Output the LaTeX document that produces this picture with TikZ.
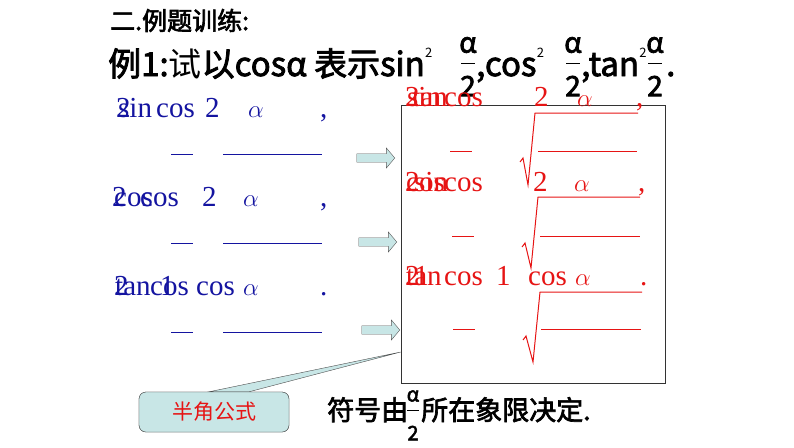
\documentclass[tikz,border=0pt]{standalone}
\usepackage{fontspec}
\setmainfont{Liberation Serif}
\newfontfamily\cjk{Noto Sans CJK SC}[FakeBold=2.5]
\newfontfamily\cjkr{Noto Sans CJK SC}
\usetikzlibrary{shapes.arrows}
\definecolor{bl}{RGB}{20,20,160}
\definecolor{rd}{RGB}{230,20,20}
\definecolor{cy}{RGB}{200,230,230}
\begin{document}
\begin{tikzpicture}[x=1pt,y=-1pt,
  bt/.style={inner sep=0,anchor=base west,text=bl,font=\fontsize{29}{29}\selectfont},
  rt/.style={inner sep=0,anchor=base west,text=rd,font=\fontsize{29}{29}\selectfont},
  bbar/.style={draw=bl,line width=1pt},
  rbar/.style={draw=rd,line width=1pt},
  blk/.style={single arrow,draw=gray!70!black,fill=cy,minimum height=38pt,minimum width=20pt,single arrow head extend=3pt,inner sep=2pt,single arrow tip angle=100},
  tt/.style={inner sep=0,anchor=base west,font=\cjk\fontsize{33}{33}\selectfont},
  sup/.style={inner sep=0,anchor=base west,font=\cjkr\fontsize{13}{13}\selectfont},
  fr/.style={inner sep=0,font=\cjk\fontsize{28}{28}\selectfont}]
\useasboundingbox (0,0) rectangle (794,447);
% headings
\node[inner sep=0,anchor=base west,font=\cjk\fontsize{25}{25}\selectfont] (h1) at (110,30) {二.例题训练:};
\node[tt] (h2) at (108,76) {例1:\cjkr 试\cjk 以cosα 表示sin};
\node[sup] (s1) at (h2.base east) [yshift=19pt] {2};
\node[fr] (fa1) at (468,45) {α};
\draw[line width=1pt] (461,63) -- (475,63);
\node[fr] (fb1) at (468,86) {2};
\node[tt] (h3) at (476,76) {,cos};
\node[sup] (s2) at (h3.base east) [yshift=19pt] {2};
\node[fr] (fa2) at (573,45) {α};
\draw[line width=1pt] (566,63) -- (580,63);
\node[fr] (fb2) at (573,86) {2};
\node[tt] (h4) at (581,76) {,tan};
\node[sup] (s3) at (h4.base east) [yshift=19pt] {2};
\node[fr] (fa3) at (655,45) {α};
\draw[line width=1pt] (648,63) -- (662,63);
\node[fr] (fb3) at (655,86) {2};
\node[tt] (h5) at (666,76) {.};
% blue formulas
\node[bt] (b1a) at (116,117) {2};
\node[bt] (b1b) at (118,117) {sin};
\node[bt] (b1c) at (156,117) {cos};
\node[bt] (b1d) at (205,117) {2};
\node[bt] (b1e) at (248,117) {$\alpha$};
\node[bt] (b1f) at (320,117) {,};
\draw[bbar] (171,154) -- (193,154); \draw[bbar] (223,154) -- (322,154);
\node[bt] (b2a) at (112,206) {2};
\node[bt] (b2b) at (114,206) {cos};
\node[bt] (b2c) at (140,206) {cos};
\node[bt] (b2d) at (202,206) {2};
\node[bt] (b2e) at (243,206) {$\alpha$};
\node[bt] (b2f) at (320,206) {,};
\draw[bbar] (171,243) -- (193,243); \draw[bbar] (223,243) -- (322,243);
\node[bt] (b3a) at (114,295) {2};
\node[bt] (b3b) at (115,295) {tan};
\node[bt] (b3x) at (160,295) {1};
\node[bt] (b3c) at (150,295) {cos};
\node[bt] (b3d) at (196,295) {cos};
\node[bt] (b3e) at (243,295) {$\alpha$};
\node[bt] (b3f) at (320,295) {.};
\draw[bbar] (171,332) -- (193,332); \draw[bbar] (223,332) -- (322,332);
% arrows
\node[blk] (ar1) at (374,158) {};
\node[blk] (ar2) at (376,242) {};
\node[blk] (ar3) at (379,330) {};
% box
\node[draw=black!80,line width=0.6pt,minimum width=264pt,minimum height=278pt,inner sep=0] (bx) at (533,244) {};
% callout
\node[draw=black!70,fill=cy,rounded corners=7pt,minimum width=150pt,minimum height=40pt] (co) at (214,412) {};
\coordinate (tip) at (bx.west |- 0,352);
\draw[draw=black!70,fill=cy] ([xshift=-5pt]co.north) -- (tip) -- ([xshift=35pt]co.north) -- cycle;
\node[draw=black!70,fill=cy,rounded corners=7pt,minimum width=150pt,minimum height=40pt,text=rd,font=\cjkr\fontsize{21}{21}\selectfont] (col) at (co) {半角公式};
% red formulas
\node[rt] (r1a) at (405,106) {2};
\node[rt] (r1b) at (407,106) {sin};
\node[rt] (r1c) at (412,106) {tan};
\node[rt] (r1d) at (444,106) {cos};
\node[rt] (r1e) at (534,106) {2};
\node[rt] (r1f) at (577,106) {$\alpha$};
\node[rt] (r1g) at (636,106) {,};
\draw[rbar] (450,151) -- (472,151); \draw[rbar] (538,151) -- (637,151);
\draw[rd,line width=1pt] (520,162) -- (523,158) -- (528,185) -- (535,113) -- (638,113);
\node[rt] (r2a) at (405,191) {2};
\node[rt] (r2b) at (406,191) {cos};
\node[rt] (r2c) at (414,191) {sin};
\node[rt] (r2d) at (444,191) {cos};
\node[rt] (r2e) at (533,191) {2};
\node[rt] (r2f) at (574,191) {$\alpha$};
\node[rt] (r2g) at (638,191) {,};
\draw[rbar] (452,236) -- (474,236); \draw[rbar] (540,236) -- (640,236);
\draw[rd,line width=1pt] (522,247) -- (525,243) -- (531,268) -- (538,197) -- (640,197);
\node[rt] (r3a) at (405,285) {2};
\node[rt] (r3b) at (406,285) {tan};
\node[rt] (r3c) at (414,285) {1};
\node[rt] (r3d) at (444,285) {cos};
\node[rt] (r3e) at (496,285) {1};
\node[rt] (r3f) at (528,285) {cos};
\node[rt] (r3g) at (575,285) {$\alpha$};
\node[rt] (r3h) at (640,285) {.};
\draw[rbar] (453,329) -- (475,329); \draw[rbar] (541,329) -- (641,329);
\draw[rd,line width=1pt] (523,340) -- (526,336) -- (533,362) -- (540,292) -- (642,292);
% bottom line
\node[inner sep=0,anchor=base west,font=\cjk\fontsize{27}{27}\selectfont] (bt1) at (327,420) {符号由};
\node[inner sep=0,font=\cjk\fontsize{20}{20}\selectfont] (bfa) at (413,396) {α};
\draw[line width=0.8pt] (407,410) -- (419,410);
\node[inner sep=0,font=\cjk\fontsize{20}{20}\selectfont] (bfb) at (413,433) {2};
\node[inner sep=0,anchor=base west,font=\cjk\fontsize{27}{27}\selectfont] (bt2) at (421,420) {所在象限决定.};
\end{tikzpicture}
\end{document}
